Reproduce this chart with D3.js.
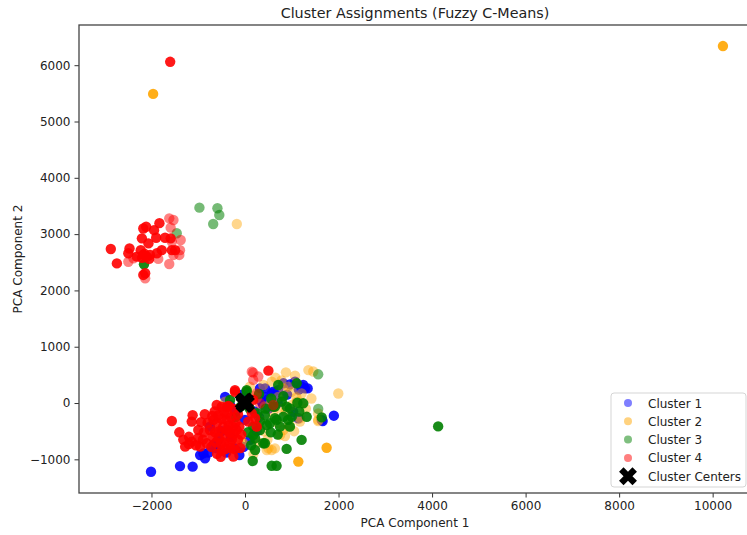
<!DOCTYPE html>
<html>
<head>
  <script src="https://d3js.org/d3.v7.min.js"></script>
<style>
body { margin: 0; background: #fff; }
text { font-family: "DejaVu Sans", sans-serif; fill: #222; }
</style>
</head>
<body>
  <div id="viz"></div>
<script>

// each point is [pc1, pc2, membership]  (membership is used as the opacity)
var cluster1 = [
  [-2010,-1220,1],[-1390,-1120,1],[-1120,-1130,1],[-855,-980,1],[-890,-895,1],[-960,-925,1],
  [-120,-925,1],[-215,-805,1],[-675,-745,1],[-605,-805,1],[-570,-655,1],[-750,-420,1],
  [105,-655,1],[1900,-225,1],[1660,-320,1],[1640,-300,1],[1340,260,1],[1245,320,1],
  [1210,290,1],[1280,260,1],[1070,380,1],[-425,110,1],[-320,-35,1],[425,110,1],
  [605,200,1],[820,350,1],[320,260,1],[570,170,1],[710,230,1],[430,260,1],[355,25,1],
  [390,-35,1],[1030,-155,1],[1140,-270,1],[-300,-600,1],[-500,-500,1],[0,-300,1],
  [200,-150,1],[500,-100,1],[700,0,1],[900,150,1],[-200,-150,1],
  [-780,-880,1],[-400,-880,1],[-30,-780,1],[250,-500,1],[480,60,1],[960,330,1],
  [1150,240,1],[640,120,1],[-60,150,1],[300,-250,1]
];
var cluster2 = [
  [10220,6340,1],[-1965,5490,1],[1745,-795,1],[1140,-1040,1],
  [-175,3180,.5],[875,545,.5],[1070,485,.5],[1460,560,.5],[1355,585,.5],[1995,170,.5],
  [570,380,.5],[390,320,.5],[105,290,.5],[500,-805,.5],[640,-805,.5],[465,-835,.5],
  [570,-835,.5],[750,-570,.5],[855,-585,.5],[820,-480,.5],[960,-390,.5],[925,-420,.5],
  [1105,25,.5],[1210,-5,.5],[1000,-35,.5],[1565,-300,.5],[1565,-185,.5],[1565,-320,.5],
  [-70,-690,.5],[-35,-715,.5],[-425,25,.5],[925,290,.5],[820,260,.5],[710,110,.5],
  [1210,170,.5],[1175,-270,.5],[1175,-330,.5],[320,-300,.5],[250,85,.5],[600,-200,.5],
  [700,-350,.5],[400,-500,.5],
  [650,450,.5],[780,400,.5],[1000,200,.5],[1100,100,.5],[870,-150,.5],[760,-100,.5],
  [480,-650,.5],[300,-700,.5],[180,-900,.5],[1300,-100,.5],[1420,80,.5],[560,30,.5],
  [420,-60,.5],[1050,-500,.5],[-150,-550,.5],[200,130,.5]
];
var cluster3 = [
  [-2160,2465,1],[-1460,3015,.6],[-975,3470,.6],[-590,3460,.6],[-550,3340,.6],[-680,3180,.6],
  [4130,-415,1],[165,-1030,1],[570,-1115,1],[675,-1115,1],[890,-815,1],[1210,-655,1],
  [1565,510,.6],[1640,-255,1],[1565,-105,.6],[1120,5,1],[960,-420,1],[820,-245,1],
  [675,-300,1],[535,-360,1],[425,-215,1],[175,-420,1],[320,-480,1],[425,-715,1],
  [215,-835,1],[215,-625,1],[390,-715,1],[175,-570,1],[36,200,1],[36,230,1],[-320,55,1],
  [710,320,1],[1105,350,1],[605,-65,1],[785,25,1],[960,-95,1],[640,-270,1],[1000,-245,1],
  [750,-420,1],[465,-390,1],[320,-330,1],[1320,-245,1],[640,-65,1],[890,-65,1],
  [1245,-5,1],[-200,-250,1],[100,-100,1],
  [550,-520,1],[700,-560,1],[260,-180,1],[440,-100,1],[820,120,1],[560,80,1],
  [130,-750,1],[60,-520,1],[920,-300,1],[1160,-150,1],[300,160,1],[-90,-60,1]
];
var cluster4 = [
  [-1600,6060,1],
  [-2870,2735,1],[-2740,2480,1],[-2470,2745,1],[-2495,2660,1],[-2495,2510,.55],[-2315,2600,1],
  [-2230,2715,1],[-2175,3100,1],[-2205,2925,1],[-2115,3130,1],[-2065,2835,1],[-2175,2630,1],
  [-2100,2600,1],[-2030,2630,1],[-2135,2305,1],[-2175,2275,1],[-2135,2215,.55],[-1945,3070,1],
  [-1900,2935,1],[-1830,3195,1],[-1885,2660,1],[-1780,2715,1],[-1855,2560,.55],[-1710,2935,1],
  [-1620,3280,.55],[-1530,3250,.55],[-1590,3115,.55],[-1590,2925,1],[-1565,2865,.55],
  [-1375,2895,.55],[-1565,2715,1],[-1495,2715,1],[-1390,2715,.55],[-1530,2630,.55],
  [-1405,2630,.55],[-1620,2470,.55],[-2385,2570,.55],[-2200,2580,1],[-2150,2650,1],[-2050,2560,1],
  [-1565,-320,1],[-1405,-520,1],[-1120,-215,1],[-1140,-330,1],[-1000,-480,1],[-1280,-775,1],
  [-1140,-685,1],[-960,-775,1],[-820,-715,1],[-520,-955,1],[-750,-480,1],[-675,-300,1],
  [-570,-215,1],[-500,-65,1],[-605,-35,1],[-390,-65,1],[-215,200,1],[-215,230,1],
  [-700,-600,1],[-550,-500,1],[-450,-700,1],[-350,-400,1],[-300,-800,1],[-250,-550,1],
  [-400,-300,1],[-600,-350,1],[-500,-850,1],[-200,-350,1],[-150,-650,1],[-250,-950,1],
  [-450,-150,1],[-350,-50,1],[-650,-150,1],[-800,-350,1],[-900,-650,1],[-1050,-750,1],
  [-1200,-600,1],[-300,-250,1],
  [175,540,.55],[500,575,1],[285,470,.55],[175,410,.55],[250,170,.55],[175,55,1],[145,-185,1],
  [70,-330,1],[215,-270,1],[250,-420,1],[320,-5,.55],[605,-35,.55],[145,555,.55],
  [-380,-480,1],[-280,-650,1],[-420,-580,1],[-520,-720,1],[-330,-720,1],[-220,-820,1],
  [-640,-520,1],[-560,-620,1],[-470,-430,1],[-330,-530,1],[-180,-480,1],[-100,-800,1],
  [-260,-420,1],[-720,-780,1],[-880,-520,1],[-1000,-620,1],[-420,-820,1],[-600,-900,1],
  [-150,-200,1],[-500,-280,1],[-700,-230,1],[-860,-200,1],[-380,-180,1],[-250,-100,1],
  [-120,-420,1],[-1320,-650,1],[-1200,-730,1],[-940,-340,1],[-620,-700,1],[-80,-560,1]
];
var centers = [[-30,20],[20,-10],[0,30],[-10,-20]];

var clusterNames = ["Cluster 1", "Cluster 2", "Cluster 3", "Cluster 4"];
var clusterColors = ["blue", "orange", "green", "red"];
var clusters = [cluster1, cluster2, cluster3, cluster4];

var xTicks = [-2000, 0, 2000, 4000, 6000, 8000, 10000];
var yTicks = [-1000, 0, 1000, 2000, 3000, 4000, 5000, 6000];

var width = 747, height = 535;
// axes box (right side runs past the picture edge, like the original)
var plot = {left: 79, right: 751, top: 25, bottom: 493};

var svg = d3.select("#viz")
    .append("svg")
    .attr("width", width)
    .attr("height", height);

var x = d3.scaleLinear().domain([-3550, 10820]).range([plot.left, plot.right]);
var y = d3.scaleLinear().domain([-1598, 6714]).range([plot.bottom, plot.top]);

svg.append("defs").append("clipPath").attr("id", "clip")
  .append("rect")
  .attr("x", plot.left).attr("y", plot.top)
  .attr("width", plot.right - plot.left).attr("height", plot.bottom - plot.top);

var pts = svg.append("g").attr("clip-path", "url(#clip)");

clusters.forEach(function(data, i) {
  pts.selectAll(".c" + i)
    .data(data)
    .enter().append("circle")
    .attr("class", "c" + i)
    .attr("cx", function(d) { return x(d[0]); })
    .attr("cy", function(d) { return y(d[1]); })
    .attr("r", 5.2)
    .style("fill", clusterColors[i])
    .style("fill-opacity", function(d) { return d[2] * 0.9; });
});

var xMark = d3.symbol().type(d3.symbolCross).size(200);
pts.selectAll(".center")
  .data(centers)
  .enter().append("path")
  .attr("d", xMark)
  .attr("transform", function(d) { return "translate(" + x(d[0]) + "," + y(d[1]) + ") rotate(45)"; })
  .style("fill", "black");

// axes
var fmt = function(d) { return d < 0 ? "\u2212" + Math.abs(d) : d; };
var xAxis = svg.append("g")
  .attr("transform", "translate(0," + plot.bottom + ")")
  .call(d3.axisBottom(x).tickValues(xTicks).tickSize(4.5).tickPadding(4).tickFormat(fmt));
var yAxis = svg.append("g")
  .attr("transform", "translate(" + plot.left + ",0)")
  .call(d3.axisLeft(y).tickValues(yTicks).tickSize(4.5).tickPadding(4).tickFormat(fmt));

[xAxis, yAxis].forEach(function(a) {
  a.select(".domain").remove();
  a.selectAll("line").style("stroke", "#333").style("stroke-width", 1);
  a.selectAll("text").style("font-size", "12px").style("font-family", "DejaVu Sans").style("fill", "#222");
});

// spines
svg.append("rect")
  .attr("x", plot.left).attr("y", plot.top)
  .attr("width", plot.right - plot.left).attr("height", plot.bottom - plot.top)
  .style("fill", "none").style("stroke", "#444").style("stroke-width", 1.3);

// labels
svg.append("text")
  .attr("x", (plot.left + plot.right) / 2).attr("y", 18)
  .attr("text-anchor", "middle")
  .style("font-size", "14.3px")
  .text("Cluster Assignments (Fuzzy C-Means)");

svg.append("text")
  .attr("x", (plot.left + plot.right) / 2).attr("y", 527)
  .attr("text-anchor", "middle")
  .style("font-size", "12px")
  .text("PCA Component 1");

svg.append("text")
  .attr("transform", "translate(22," + (plot.top + plot.bottom) / 2 + ") rotate(-90)")
  .attr("text-anchor", "middle")
  .style("font-size", "12px")
  .text("PCA Component 2");

// legend
var lg = svg.append("g");
lg.append("rect")
  .attr("x", 611).attr("y", 393).attr("width", 135).attr("height", 94)
  .attr("rx", 3)
  .style("fill", "white").style("fill-opacity", 0.85)
  .style("stroke", "#d5d5d5").style("stroke-width", 1);

clusterNames.forEach(function(name, i) {
  var ly = 403 + i * 18.3;
  lg.append("circle")
    .attr("cx", 628).attr("cy", ly).attr("r", 4)
    .style("fill", clusterColors[i]).style("fill-opacity", 0.5);
  lg.append("text")
    .attr("x", 648).attr("y", ly + 4.5)
    .style("font-size", "12px")
    .text(name);
});
lg.append("path")
  .attr("d", xMark)
  .attr("transform", "translate(628," + (403 + 4 * 18.3) + ") rotate(45)")
  .style("fill", "black");
lg.append("text")
  .attr("x", 648).attr("y", 403 + 4 * 18.3 + 4.5)
  .style("font-size", "12px")
  .text("Cluster Centers");

</script>
</body>
</html>
